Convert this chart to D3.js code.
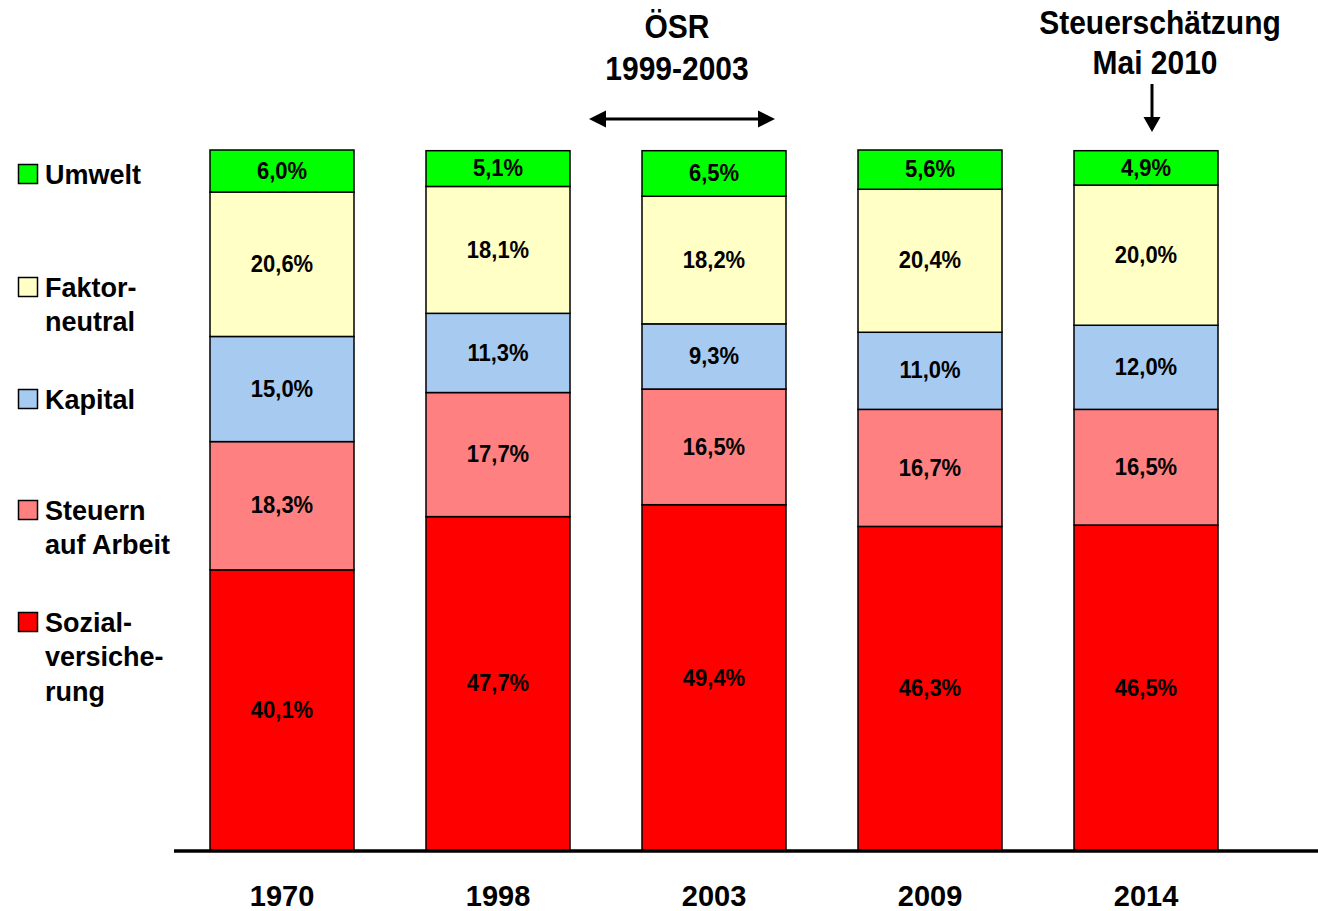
<!DOCTYPE html>
<html>
<head>
<meta charset="utf-8">
<script src="https://cdn.jsdelivr.net/npm/d3@7"></script>
<style>
  html, body { margin: 0; padding: 0; background: #fff; }
  svg { display: block; font-family: "Liberation Sans", Arial, sans-serif; font-weight: bold; }
</style>
</head>
<body>
<svg id="chart" width="1318" height="911"></svg>
<script>
const years = ["1970", "1998", "2003", "2009", "2014"];
const seriesKeys = ["Sozial", "Arbeit", "Kapital", "Faktor", "Umwelt"];
const sozial  = [40.1, 47.7, 49.4, 46.3, 46.5];
const arbeit  = [18.3, 17.7, 16.5, 16.7, 16.5];
const kapital = [15.0, 11.3, 9.3, 11.0, 12.0];
const faktor  = [20.6, 18.1, 18.2, 20.4, 20.0];
const umwelt  = [6.0, 5.1, 6.5, 5.6, 4.9];
const colors = ["#FF0000", "#FF8080", "#A6CAF0", "#FFFFC6", "#00FF00"];
const legendLabels = [
  ["Umwelt"],
  ["Faktor-", "neutral"],
  ["Kapital"],
  ["Steuern", "auf Arbeit"],
  ["Sozial-", "versiche-", "rung"]
];
const legendColors = ["#00FF00", "#FFFFC6", "#A6CAF0", "#FF8080", "#FF0000"];

const seriesValues = [sozial, arbeit, kapital, faktor, umwelt];
const table = years.map((y, i) => {
  const row = { year: y };
  seriesKeys.forEach((k, j) => row[k] = seriesValues[j][i]);
  return row;
});

const svg = d3.select("#chart");
const x = d3.scaleBand().domain(years).range([210, 1218]).paddingInner(1/3).paddingOuter(0);
const y = d3.scaleLinear().domain([0, 100]).range([851, 150]);

const stack = d3.stack().keys(seriesKeys);
const layers = stack(table);

const fmt = v => v.toFixed(1).replace(".", ",") + "%";

const g = svg.append("g");
layers.forEach((layer, li) => {
  const lg = g.append("g");
  lg.selectAll("rect").data(layer).join("rect")
    .attr("x", d => x(d.data.year))
    .attr("y", d => y(d[1]))
    .attr("width", x.bandwidth())
    .attr("height", d => y(d[0]) - y(d[1]))
    .attr("fill", colors[li])
    .attr("stroke", "#000")
    .attr("stroke-width", 1.5);
  lg.selectAll("text").data(layer).join("text")
    .attr("transform", d => `translate(${x(d.data.year) + x.bandwidth() / 2},${(y(d[0]) + y(d[1])) / 2}) scale(1,1.05)`)
    .attr("text-anchor", "middle")
    .attr("dominant-baseline", "central")
    .attr("font-size", 22)
    .attr("fill", "#000")
    .text(d => fmt(d.data[seriesKeys[li]]));
});

// axis
const axis = d3.axisBottom(x).tickSize(0).tickPadding(34);
const ax = svg.append("g").attr("transform", "translate(0,851)").call(axis);
ax.select(".domain").remove();
ax.selectAll("text").attr("font-size", 29).attr("font-family", "Liberation Sans, Arial, sans-serif")
  .attr("font-weight", "bold").attr("fill", "#000").attr("dy", "0.71em");
svg.append("line").attr("x1", 174).attr("x2", 1318).attr("y1", 851).attr("y2", 851)
  .attr("stroke", "#000").attr("stroke-width", 3.5);

// legend
const legendFirstY = [174, 287, 399, 510, 622];
const lineH = 34.5;
legendLabels.forEach((lines, i) => {
  const cy = legendFirstY[i];
  svg.append("rect").attr("x", 18.5).attr("y", cy - 9.5).attr("width", 19).attr("height", 19)
    .attr("fill", legendColors[i]).attr("stroke", "#000").attr("stroke-width", 1.5);
  lines.forEach((t, k) => {
    svg.append("text").attr("transform", `translate(45,${cy + k * lineH}) scale(1,1.05)`)
      .attr("dominant-baseline", "central").attr("font-size", 27).attr("fill", "#000").text(t);
  });
});

// annotations
function ann(txt, cx, cy) {
  svg.append("text").attr("transform", `translate(${cx},${cy}) scale(1,1.12)`)
    .attr("text-anchor", "middle")
    .attr("dominant-baseline", "central").attr("font-size", 30).attr("fill", "#000")
    .text(txt);
}
ann("ÖSR", 677, 26);
ann("1999-2003", 677, 68);
ann("Steuerschätzung", 1160, 22);
ann("Mai 2010", 1155, 62);

// double arrow
svg.append("line").attr("x1", 600).attr("x2", 764).attr("y1", 119).attr("y2", 119)
  .attr("stroke", "#000").attr("stroke-width", 3);
svg.append("path").attr("d", "M589,119 L606,110.5 L606,127.5 Z").attr("fill", "#000");
svg.append("path").attr("d", "M775,119 L758,110.5 L758,127.5 Z").attr("fill", "#000");

// down arrow
svg.append("line").attr("x1", 1152).attr("x2", 1152).attr("y1", 84).attr("y2", 120)
  .attr("stroke", "#000").attr("stroke-width", 3);
svg.append("path").attr("d", "M1152,132 L1143.5,117 L1160.5,117 Z").attr("fill", "#000");
</script>
</body>
</html>
